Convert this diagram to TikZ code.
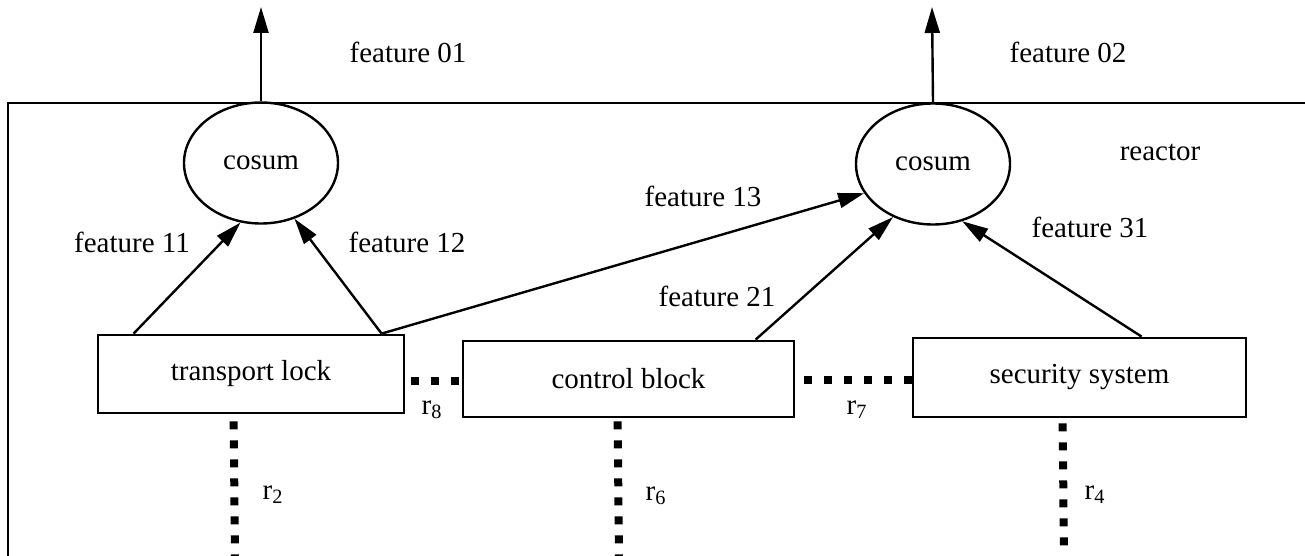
\documentclass[tikz,border=0pt]{standalone}
\usepackage{fontspec}
\setmainfont{Liberation Serif}
\usetikzlibrary{shapes.geometric,arrows.meta,calc}
\begin{document}
\begin{tikzpicture}[x=0.5pt,y=-0.5pt,
  every node/.style={font=\fontsize{14.5pt}{17pt}\selectfont},
  ln/.style={line width=1.2pt},
  ell/.style={draw,ln,ellipse,inner sep=0pt,minimum width=77pt,minimum height=60.5pt},
  blk/.style={draw,line width=1.4pt,rectangle,inner sep=0pt},
  arr/.style={ln,-{Triangle[length=13pt,width=7.5pt]}},
  hdots/.style={line width=4pt,dash pattern=on 4pt off 6pt},
  vdots/.style={line width=4pt,dash pattern=on 4pt off 5.5pt},
  lbl/.style={inner sep=0pt,anchor=center}]
\useasboundingbox (0,0) rectangle (1305,556);
% frame
\draw[line width=1.3pt] (8,560) -- (8,103) -- (1310,103);
% ellipses
\node[ell] (e1) at (261,163) {cosum};
\node[ell] (e2) at (933,164) {cosum};
% boxes
\node[blk,minimum width=153pt,minimum height=39pt] (tl) at (251,374) {transport lock};
\node[blk,minimum width=165.5pt,minimum height=38pt] (cb) at (628.5,379) {control block};
\node[blk,minimum width=166.5pt,minimum height=39.5pt] (sb) at (1079.5,377.5) {security system};
% outputs
\coordinate (o1) at (261,7);
\coordinate (o2) at (932,7);
\draw[arr] (e1.north) -- (o1);
\draw[arr] (e2.north) -- (o2);
% feature arrows
\draw[arr] ($(tl.north west)+(37,0)$) -- (e1.251.6);
\draw[arr] ($(tl.north west)+(285,0)$) -- (e1.301.3);
\draw[arr] ($(tl.north west)+(285,0)$) -- (e2.203.9);
\draw[arr] ($(cb.north west)+(294,0)$) -- (e2.233.8);
\draw[arr] ($(sb.north west)+(230,0)$) -- (e2.297.4);
% dotted relations
\draw[hdots,dash phase=-3pt] ($(tl.east)+(0,7)$) -- ($(cb.west)+(0,2)$);
\draw[hdots,dash phase=-4.5pt] ($(cb.east)+(0,1)$) -- ($(cb.east -| sb.west)+(0,1)$);
\coordinate (b2) at (235,560);
\coordinate (b6) at (619,560);
\coordinate (b4) at (1064,560);
\draw[vdots,dash phase=-3.5pt] ($(tl.south west)+(137,0)$) -- (b2);
\draw[vdots,dash phase=-1.5pt] ($(cb.south west)+(156,0)$) -- (b6);
\draw[vdots,dash phase=-2.5pt] ($(sb.south west)+(151,0)$) -- (b4);
% labels
\node[lbl] (l01) at (408,52) {feature 01};
\node[lbl] (l02) at (1068,52) {feature 02};
\node[lbl] (lre) at (1160,152) {reactor};
\node[lbl] (l11) at (132,242) {feature 11};
\node[lbl] (l12) at (407,242) {feature 12};
\node[lbl] (l13) at (703,196) {feature 13};
\node[lbl] (l21) at (717,296) {feature 21};
\node[lbl] (l31) at (1090,227) {feature 31};
\node[lbl] (r8) at (432,410) {r\textsubscript{8}};
\node[lbl] (r7) at (857,410) {r\textsubscript{7}};
\node[lbl] (r2) at (273,495) {r\textsubscript{2}};
\node[lbl] (r6) at (656,496) {r\textsubscript{6}};
\node[lbl] (r4) at (1095,495) {r\textsubscript{4}};
\end{tikzpicture}
\end{document}
